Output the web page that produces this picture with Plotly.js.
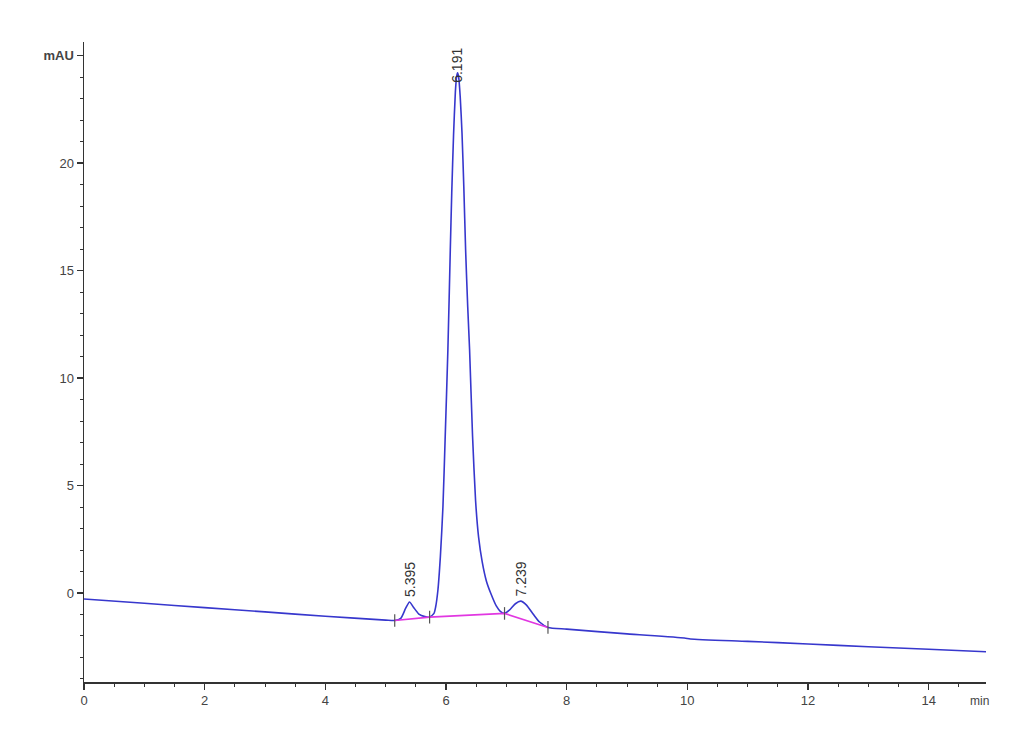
<!DOCTYPE html>
<html>
<head>
<meta charset="utf-8">
<script src="https://cdn.plot.ly/plotly-3.0.1.min.js"></script>
<style>html,body{margin:0;padding:0;background:#fff;}#chart{width:1030px;height:755px;}</style>
</head>
<body>
<div id="chart"></div>
<script>
// Retention time (min) and signal (mAU)
var timeMin = [0, 1, 2, 3, 4, 5, 5.15, 5.25, 5.33, 5.395, 5.46, 5.55, 5.65, 5.728,
  5.8, 5.828, 5.866, 5.906, 5.949, 5.985, 6.031, 6.071, 6.095, 6.125, 6.155, 6.175, 6.191, 6.21, 6.235,
  6.265, 6.295, 6.325, 6.36, 6.391, 6.44, 6.49, 6.54, 6.6, 6.67, 6.74, 6.833, 6.9, 6.97,
  7.05, 7.15, 7.239, 7.33, 7.45, 7.55, 7.69, 8, 9, 9.95, 10.05, 11, 12, 13, 14, 14.95];
var signalMAU = [-0.28, -0.48, -0.68, -0.88, -1.08, -1.26, -1.28, -1.18, -0.72, -0.42, -0.66, -0.98, -1.1, -1.12,
  -0.95, -0.65, 0.14, 1.67, 4.0, 7.12, 11.3, 15.95, 18.6, 21.3, 23.3, 24.0, 24.2, 24.0, 23.1,
  21.4, 18.9, 15.95, 13.3, 11.3, 7.3, 4.3, 2.6, 1.45, 0.55, 0.0, -0.6, -0.85, -0.95,
  -0.8, -0.5, -0.38, -0.55, -1.0, -1.35, -1.6, -1.68, -1.9, -2.09, -2.14, -2.25, -2.37, -2.5, -2.62, -2.73];

// Integration baseline (magenta) and its boundary marks
var baseTime = [5.15, 5.728, 6.97, 7.69];
var baseMAU = [-1.28, -1.12, -0.95, -1.6];

// Peak labels
var peakTime = [5.395, 6.191, 7.239];
var peakMAU = [-0.42, 23.5, -0.38];
var peakText = ['5.395', '6.191', '7.239'];

// Axis ticks
var yTickVals = [0, 5, 10, 15, 20, 25];
var yTickText = ['0', '5', '10', '15', '20', '<b>mAU</b>'];
var xTickVals = [0, 2, 4, 6, 8, 10, 12, 14];

var traces = [
  {x: timeMin, y: signalMAU, type: 'scatter', mode: 'lines',
   line: {color: 'rgb(55,55,205)', width: 1.6, shape: 'spline', smoothing: 0.6}, hoverinfo: 'x+y'},
  {x: baseTime, y: baseMAU, type: 'scatter', mode: 'lines+markers',
   line: {color: 'rgb(225,55,225)', width: 1.6},
   marker: {symbol: 'line-ns', size: 9, line: {color: '#555', width: 1.2}}}
];

var annotations = peakText.map(function (t, i) {
  return {x: peakTime[i], y: peakMAU[i], xref: 'x', yref: 'y', text: t, showarrow: false,
    textangle: -90, yanchor: 'bottom', xanchor: 'center', yshift: 3,
    font: {family: 'Liberation Sans, Arial, sans-serif', size: 14, color: '#333'}};
});
annotations.push({x: 14.85, y: 0, xref: 'x', yref: 'paper', text: 'min', showarrow: false,
  yanchor: 'top', yshift: -10, font: {family: 'Liberation Sans, Arial, sans-serif', size: 12, color: '#444'}});

var layout = {
  width: 1030, height: 755,
  margin: {l: 84, r: 44, t: 42, b: 73},
  paper_bgcolor: '#fff', plot_bgcolor: '#fff',
  showlegend: false,
  font: {family: 'Liberation Sans, Arial, sans-serif', size: 13, color: '#444'},
  xaxis: {range: [0, 14.95], tickvals: xTickVals, ticks: 'outside', ticklen: 6, tickwidth: 1.2,
    tickcolor: '#333', showline: true, linecolor: '#333', linewidth: 1.5, showgrid: false, zeroline: false,
    minor: {dtick: 0.5, ticks: 'outside', ticklen: 3, tickcolor: '#333', tickwidth: 1}},
  yaxis: {range: [-4.14, 25.63], tickvals: yTickVals, ticktext: yTickText, ticks: 'outside', ticklen: 6,
    tickwidth: 1.2, tickcolor: '#333', showline: true, linecolor: '#333', linewidth: 1.5, showgrid: false,
    zeroline: false, minor: {dtick: 1, ticks: 'outside', ticklen: 3, tickcolor: '#333', tickwidth: 1}},
  annotations: annotations
};

Plotly.newPlot('chart', traces, layout, {displayModeBar: false, staticPlot: true});
</script>
</body>
</html>
